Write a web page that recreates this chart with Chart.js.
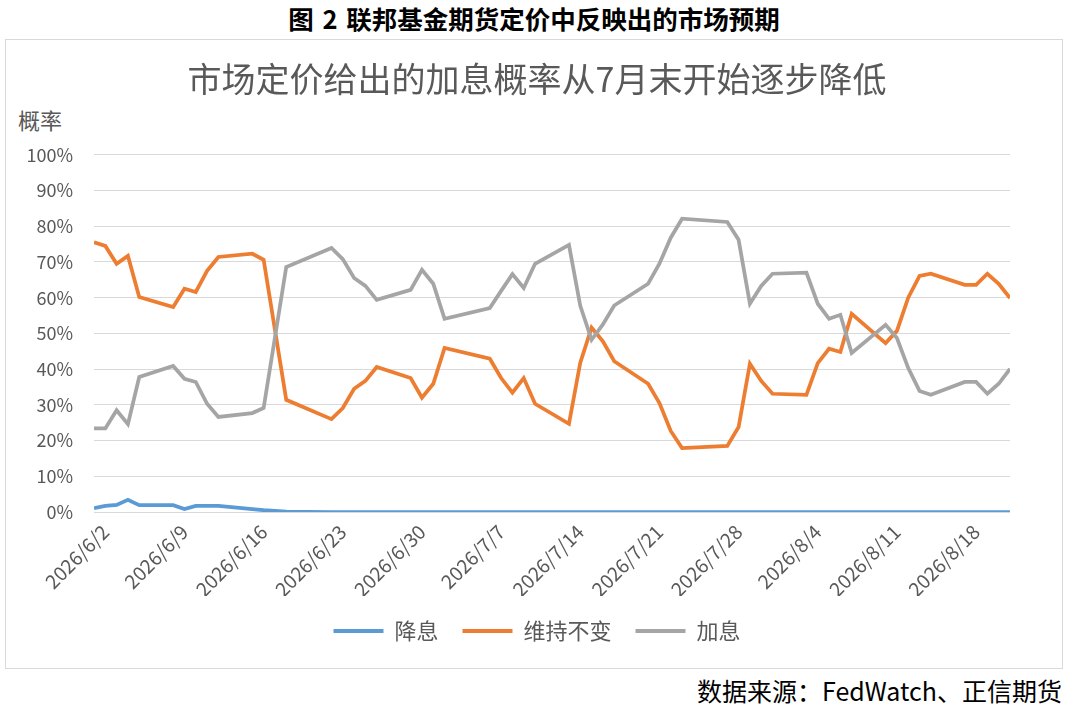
<!DOCTYPE html>
<html>
<head>
<meta charset="utf-8">
<script src="https://cdn.jsdelivr.net/npm/chart.js@4.4.1/dist/chart.umd.min.js"></script>
<style>
  html, body { margin: 0; padding: 0; background: #fff; }
  #wrap { position: relative; width: 1080px; height: 718px; overflow: hidden;
          font-family: "Noto Sans CJK SC", "Noto Sans", sans-serif; }
  #caption { position: absolute; left: 0; width: 1068px; top: 3px; text-align: center;
             font-size: 25.5px; font-weight: bold; color: #000; line-height: 30px; word-spacing: 3px; }
  #frame { position: absolute; left: 5px; top: 39px; width: 1058px; height: 630px;
           border: 1.5px solid #d9d9d9; box-sizing: border-box; }
  #ytitle { position: absolute; left: 18px; top: 105px; font-size: 22px; color: #595959; line-height: 28px; }
  #source { position: absolute; right: 18px; top: 675px; font-size: 25px; color: #000; line-height: 30px; }
  canvas { position: absolute; left: 0; top: 0; }
</style>
</head>
<body>
<div id="wrap">
  <div id="caption">图 2 联邦基金期货定价中反映出的市场预期</div>
  <div id="frame"></div>
  <div id="ytitle">概率</div>
  <div id="source">数据来源：FedWatch、正信期货</div>
  <canvas id="chart" width="1080" height="718"></canvas>
</div>
<script>
// trading days (weekends / holidays have no value, lines join across them)
const dates = [
  "2026/6/1", "2026/6/2", "2026/6/3", "2026/6/4", "2026/6/5",
  "2026/6/8", "2026/6/9", "2026/6/10", "2026/6/11", "2026/6/12",
  "2026/6/15", "2026/6/16", "2026/6/18",
  "2026/6/22", "2026/6/23", "2026/6/24", "2026/6/25", "2026/6/26",
  "2026/6/29", "2026/6/30", "2026/7/1", "2026/7/2",
  "2026/7/6", "2026/7/7", "2026/7/8", "2026/7/9", "2026/7/10",
  "2026/7/13", "2026/7/14", "2026/7/15", "2026/7/16", "2026/7/17",
  "2026/7/20", "2026/7/21", "2026/7/22", "2026/7/23",
  "2026/7/27", "2026/7/28", "2026/7/29", "2026/7/30", "2026/7/31",
  "2026/8/3", "2026/8/4", "2026/8/5", "2026/8/6", "2026/8/7",
  "2026/8/10", "2026/8/11", "2026/8/12", "2026/8/13", "2026/8/14",
  "2026/8/17", "2026/8/18", "2026/8/19", "2026/8/20", "2026/8/21"
];

// 降息
const cut = [
  1.1, 1.7, 2.0, 3.4, 1.9,
  1.9, 0.8, 1.7, 1.7, 1.7,
  0.8, 0.5, 0.1,
  0, 0, 0, 0, 0,
  0, 0, 0, 0,
  0, 0, 0, 0, 0,
  0, 0, 0, 0, 0,
  0, 0, 0, 0,
  0, 0, 0, 0, 0,
  0, 0, 0, 0, 0,
  0, 0, 0, 0, 0,
  0, 0, 0, 0, 0
];

// 维持不变
const hold = [
  75.5, 74.5, 69.5, 71.7, 60.2,
  57.4, 62.5, 61.6, 67.5, 71.4,
  72.3, 70.6, 31.4,
  26.0, 29.1, 34.5, 36.7, 40.6,
  37.5, 32.0, 35.9, 45.9,
  42.9, 37.5, 33.4, 37.5, 30.3,
  24.7, 41.8, 51.6, 47.8, 42.2,
  35.9, 30.5, 22.7, 17.9,
  18.5, 23.8, 41.5, 36.7, 33.1,
  32.8, 41.7, 45.7, 44.8, 55.5,
  47.3, 50.7, 60.0, 66.1, 66.7,
  63.6, 63.6, 66.7, 63.9, 59.9
];

// 加息
const hike = [
  23.4, 23.4, 28.5, 24.6, 37.8,
  40.9, 37.3, 36.4, 30.3, 26.6,
  27.7, 29.1, 68.6,
  73.9, 70.8, 65.5, 63.3, 59.4,
  62.2, 67.8, 63.9, 54.1,
  57.1, 61.9, 66.6, 62.7, 69.5,
  74.8, 57.7, 48.2, 52.5, 57.8,
  63.9, 69.5, 76.8, 82.1,
  81.2, 76.2, 58.3, 63.3, 66.7,
  67.0, 58.3, 54.1, 55.2, 44.5,
  52.4, 48.7, 40.3, 33.9, 32.8,
  36.4, 36.4, 33.1, 35.9, 40.1
];

const tickDates = [
  "2026/6/2", "2026/6/9", "2026/6/16", "2026/6/23", "2026/6/30", "2026/7/7",
  "2026/7/14", "2026/7/21", "2026/7/28", "2026/8/4", "2026/8/11", "2026/8/18"
];

const start = new Date(2026, 5, 1);
function dayOf(s) {
  const [y, m, d] = s.split("/").map(Number);
  return Math.round((new Date(y, m - 1, d) - start) / 86400000);
}
function labelOf(n) {
  const t = new Date(2026, 5, 1 + n);
  return t.getFullYear() + "/" + (t.getMonth() + 1) + "/" + t.getDate();
}
const toPoints = vals => vals.map((v, i) => ({ x: dayOf(dates[i]), y: v }));

Chart.defaults.font.family = '"Noto Sans CJK SC", "Noto Sans", sans-serif';
Chart.defaults.color = "#595959";

const lineStyle = color => ({
  borderColor: color,
  backgroundColor: color,
  borderWidth: 3.75,
  pointRadius: 0,
  tension: 0,
  fill: false
});

new Chart(document.getElementById("chart"), {
  type: "line",
  data: {
    datasets: [
      { label: "降息", data: toPoints(cut), order: 3, ...lineStyle("#5B9BD5") },
      { label: "维持不变", data: toPoints(hold), order: 2, ...lineStyle("#ED7D31") },
      { label: "加息", data: toPoints(hike), order: 1, ...lineStyle("#A5A5A5") }
    ]
  },
  options: {
    responsive: false,
    animation: false,
    layout: { padding: { left: 15, right: 21, top: 0, bottom: 66 } },
    plugins: {
      title: {
        display: true,
        text: "市场定价给出的加息概率从7月末开始逐步降低",
        color: "#595959",
        font: { size: 34, weight: "normal" },
        padding: { top: 59, bottom: 55 }
      },
      legend: {
        position: "bottom",
        labels: {
          boxWidth: 50,
          boxHeight: 4,
          padding: 24,
          color: "#595959",
          font: { size: 22 },
          sort: (a, b) => a.datasetIndex - b.datasetIndex,
          generateLabels: chart =>
            Chart.defaults.plugins.legend.labels.generateLabels(chart).map(l =>
              Object.assign(l, { fillStyle: l.strokeStyle, lineWidth: 0 }))
        }
      },
      tooltip: { enabled: false }
    },
    scales: {
      x: {
        type: "linear",
        min: dayOf(dates[0]),
        max: dayOf(dates[dates.length - 1]),
        afterBuildTicks: s => { s.ticks = tickDates.map(d => ({ value: dayOf(d) })); },
        afterFit: s => { s.height = 84; },
        grid: { display: false },
        border: { display: false },
        ticks: {
          autoSkip: false,
          minRotation: 45,
          maxRotation: 45,
          padding: 0,
          color: "#595959",
          font: { size: 19.5 },
          callback: v => labelOf(v)
        }
      },
      y: {
        min: 0,
        max: 100,
        afterFit: s => { s.width = 79; },
        grid: { color: "#d9d9d9", lineWidth: 1, drawTicks: false },
        border: { display: false },
        ticks: {
          stepSize: 10,
          padding: 21,
          color: "#595959",
          font: { size: 18 },
          callback: v => v + "%"
        }
      },
      // empty right-hand axis, only reserves the space between plot and frame
      yRight: {
        position: "right",
        min: 0,
        max: 100,
        afterFit: s => { s.width = 49; },
        grid: { display: false },
        border: { display: false },
        ticks: { display: false }
      }
    }
  }
});
</script>
</body>
</html>
